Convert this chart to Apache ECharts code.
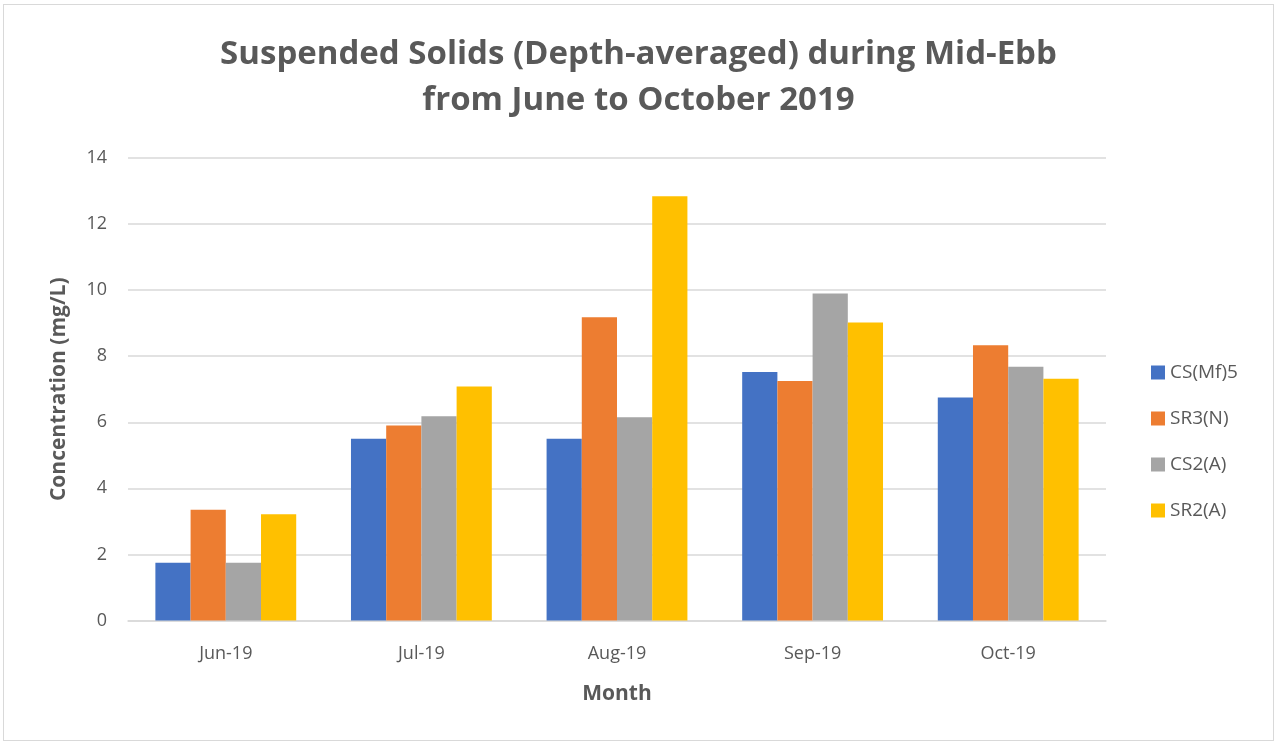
<!DOCTYPE html>
<html>
<head>
<meta charset="utf-8">
<script src="https://cdn.jsdelivr.net/npm/echarts@6/dist/echarts.min.js"></script>
<style>
  html, body { margin: 0; padding: 0; background: #fff; }
  #chart { position: absolute; left: 3px; top: 4px; width: 1271px; height: 737px; border: 1.5px solid #d9d9d9; box-sizing: border-box; }
</style>
</head>
<body>
<div id="chart"></div>
<script>
var months = ['Jun-19', 'Jul-19', 'Aug-19', 'Sep-19', 'Oct-19'];
var csMf5 = [1.75, 5.5, 5.5, 7.52, 6.75];
var sr3N = [3.35, 5.9, 9.18, 7.25, 8.33];
var cs2A = [1.75, 6.18, 6.15, 9.9, 7.68];
var sr2A = [3.22, 7.08, 12.84, 9.02, 7.32];

var myChart = echarts.init(document.getElementById('chart'));
var textColor = '#595959';
var font = "'Open Sans', sans-serif";

var option = {
  animation: false,
  color: ['#4472C4', '#ED7D31', '#A5A5A5', '#FFC000'],
  textStyle: { fontFamily: font },
  title: {
    text: 'Suspended Solids (Depth-averaged) during Mid-Ebb\nfrom June to October 2019',
    left: 'center',
    top: 22,
    textStyle: { fontSize: 33, fontWeight: 'bold', color: textColor, lineHeight: 46, fontFamily: font }
  },
  legend: {
    orient: 'vertical',
    left: 1142,
    top: 353,
    itemWidth: 14,
    itemHeight: 14,
    itemGap: 27,
    icon: 'rect',
    textStyle: { fontSize: 19, color: textColor, fontFamily: font }
  },
  grid: { left: 124, right: 167, top: 153, bottom: 119.5 },
  xAxis: {
    type: 'category',
    data: months,
    name: 'Month',
    nameLocation: 'middle',
    nameGap: 63,
    nameTextStyle: { fontSize: 21, fontWeight: 'bold', color: textColor },
    axisLine: { lineStyle: { color: '#d9d9d9', width: 1.5 } },
    axisTick: { show: false },
    axisLabel: { fontSize: 18, color: textColor, margin: 24 }
  },
  yAxis: {
    type: 'value',
    min: 0,
    max: 14,
    interval: 2,
    name: 'Concentration (mg/L)',
    nameLocation: 'middle',
    nameGap: 58,
    nameTextStyle: { fontSize: 21, fontWeight: 'bold', color: textColor },
    axisLine: { show: false },
    axisTick: { show: false },
    axisLabel: { fontSize: 18, color: textColor, margin: 21 },
    splitLine: { lineStyle: { color: '#d9d9d9', width: 1.5 } }
  },
  series: [
    { name: 'CS(Mf)5', type: 'bar', data: csMf5, barGap: '0%', barCategoryGap: '28%' },
    { name: 'SR3(N)', type: 'bar', data: sr3N },
    { name: 'CS2(A)', type: 'bar', data: cs2A },
    { name: 'SR2(A)', type: 'bar', data: sr2A }
  ]
};

myChart.setOption(option);
</script>
</body>
</html>
